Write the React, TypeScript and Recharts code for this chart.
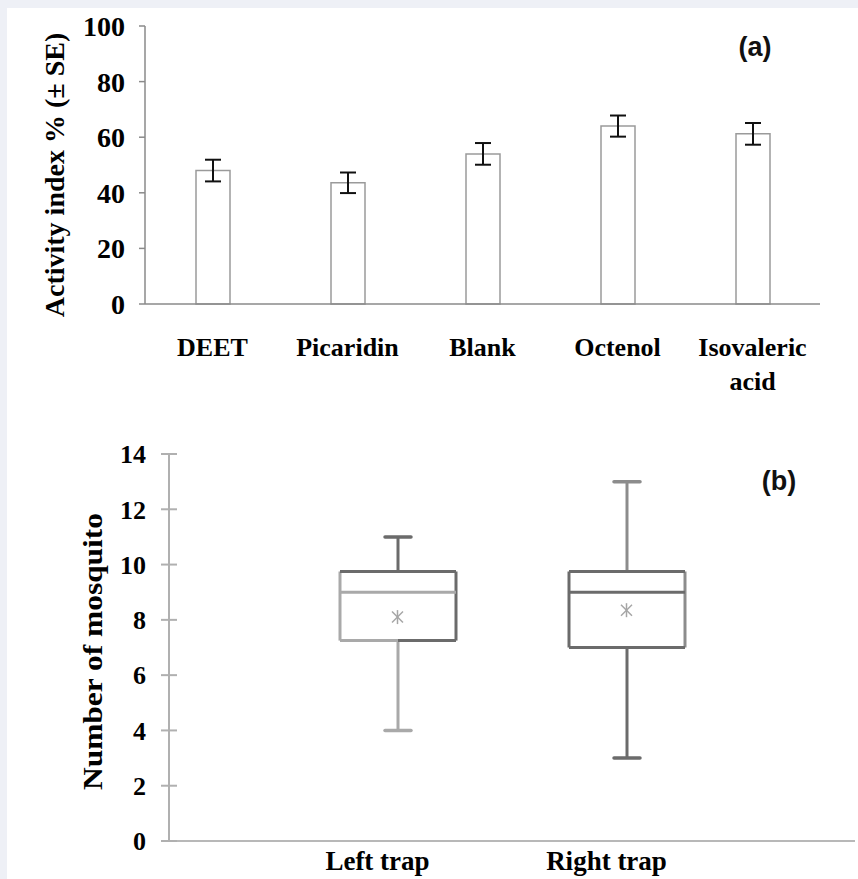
import React from 'react'
import {
  BarChart,
  Bar,
  ErrorBar,
  ComposedChart,
  Scatter,
  XAxis,
  YAxis,
} from 'recharts'

// (a) activity index per treatment
const treatments = ['DEET', 'Picaridin', 'Blank', 'Octenol', 'Isovaleric acid']
const activityIndex = [48, 43.6, 54, 64, 61.2]
const activitySE = [3.9, 3.7, 3.9, 3.8, 3.9]
const activityTicks = [0, 20, 40, 60, 80, 100]

// (b) mosquitoes per trap, box and whisker
const traps = ['Left trap', 'Right trap']
const whiskerLow = [4, 3]
const quart1 = [7.25, 7]
const medians = [9, 9]
const quart3 = [9.75, 9.75]
const whiskerHigh = [11, 13]
const means = [8.1, 8.35]
const mosquitoTicks = [0, 2, 4, 6, 8, 10, 12, 14]

const DARK = '#6b6b6b'
const LIGHT = '#a9a9a9'
const MID = '#8c8c8c'
const boxStyles = [
  { upper: DARK, top: DARK, left: LIGHT, right: DARK, median: LIGHT, bottomL: LIGHT, bottomR: DARK, lower: LIGHT },
  { upper: MID, top: DARK, left: DARK, right: MID, median: DARK, bottomL: DARK, bottomR: DARK, lower: DARK },
]

const activityData = treatments.map((name, i) => ({
  name,
  value: activityIndex[i],
  se: activitySE[i],
}))

const trapData = traps.map((name, i) => ({
  name,
  box: [quart1[i], quart3[i]],
  lo: whiskerLow[i],
  q1: quart1[i],
  med: medians[i],
  q3: quart3[i],
  hi: whiskerHigh[i],
  mean: means[i],
}))

const SERIF = '"Liberation Serif", "Times New Roman", serif'
const SANS = '"Liberation Sans", Arial, sans-serif'

const wrapLabel = (s: string) => (s.length > 12 ? s.split(' ') : [s])

const axisTitle = (text: string, dx: number, dy: number, size: number, len?: number) =>
  (props: any) => {
    const vb = props.viewBox || { x: 0, y: 0, width: 0, height: 0 }
    const x = vb.x + dx
    const y = vb.y + vb.height / 2 + dy
    return (
      <text
        x={x}
        y={y}
        transform={`rotate(-90 ${x} ${y})`}
        textAnchor="middle"
        fontFamily={SERIF}
        fontWeight="bold"
        fontSize={size}
        fill="#000"
        textLength={len}
        lengthAdjust={len ? 'spacingAndGlyphs' : undefined}
      >
        {text}
      </text>
    )
  }

const TreatmentTick = (props: any) => {
  const { x, y, payload } = props
  const lines = wrapLabel(String(payload.value))
  return (
    <text x={x} y={y + 52} textAnchor="middle" fontFamily={SERIF} fontWeight="bold" fontSize={26} fill="#000">
      {lines.map((l, i) => (
        <tspan key={i} x={x} dy={i === 0 ? 0 : 34}>
          {l}
        </tspan>
      ))}
    </text>
  )
}

const CrossTick = (props: any) => {
  const { x, y, payload } = props
  return (
    <g>
      <line x1={x} x2={x + 16} y1={y} y2={y} stroke="#b0b0b0" strokeWidth={2} />
      <text x={x - 15} y={y} dy="0.355em" textAnchor="end" fontFamily={SERIF} fontWeight="bold" fontSize={26} fill="#000">
        {payload.value}
      </text>
    </g>
  )
}

const TrapTick = (props: any) => {
  const { x, y, payload } = props
  return (
    <text x={x - 20} y={y + 29} textAnchor="middle" fontFamily={SERIF} fontWeight="bold" fontSize={27} fill="#000">
      {payload.value}
    </text>
  )
}

const BoxShape = (props: any) => {
  const { x, y, width, height, payload, index } = props
  const top = Math.min(y, y + height)
  const h = Math.abs(height)
  const unit = h / (payload.q3 - payload.q1)
  const py = (v: number) => top + (payload.q3 - v) * unit
  const cx = x + width / 2
  const bot = top + h
  const s = boxStyles[index] || boxStyles[0]
  const sw = 3
  return (
    <g>
      <line x1={cx} x2={cx} y1={py(payload.hi)} y2={top} stroke={s.upper} strokeWidth={sw} />
      <line x1={cx - 13} x2={cx + 13} y1={py(payload.hi)} y2={py(payload.hi)} stroke={s.upper} strokeWidth={3.5} strokeLinecap="round" />
      <line x1={cx} x2={cx} y1={bot} y2={py(payload.lo)} stroke={s.lower} strokeWidth={sw} />
      <line x1={cx - 13} x2={cx + 13} y1={py(payload.lo)} y2={py(payload.lo)} stroke={s.lower} strokeWidth={3.5} strokeLinecap="round" />
      <rect x={x} y={top} width={width} height={h} fill="#fff" />
      <line x1={x} x2={x} y1={top} y2={bot} stroke={s.left} strokeWidth={sw} />
      <line x1={x + width} x2={x + width} y1={top} y2={bot} stroke={s.right} strokeWidth={sw} />
      <line x1={x} x2={x + width} y1={top} y2={top} stroke={s.top} strokeWidth={sw} />
      <line x1={x} x2={cx} y1={bot} y2={bot} stroke={s.bottomL} strokeWidth={sw} />
      <line x1={cx} x2={x + width} y1={bot} y2={bot} stroke={s.bottomR} strokeWidth={sw} />
      <line x1={x} x2={x + width} y1={py(payload.med)} y2={py(payload.med)} stroke={s.median} strokeWidth={sw} />
    </g>
  )
}

const StarShape = (props: any) => {
  const { cx, cy } = props
  const r = 7
  const d = 5.5
  return (
    <g stroke="#a6a6a6" strokeWidth={1.5}>
      <line x1={cx} x2={cx} y1={cy - r} y2={cy + r} />
      <line x1={cx - d} x2={cx + d} y1={cy - d} y2={cy + d} />
      <line x1={cx - d} x2={cx + d} y1={cy + d} y2={cy - d} />
    </g>
  )
}

export default function App() {
  return (
    <div style={{ position: 'absolute', left: 0, top: 0, width: 858, height: 879, background: '#eef0f6' }}>
      <div style={{ position: 'absolute', left: 7, top: 8, width: 851, height: 871, background: '#fff' }} />

      <div style={{ position: 'absolute', left: 0, top: 0 }}>
        <BarChart width={858} height={430} data={activityData} margin={{ top: 26, right: 38, left: 45, bottom: 26 }}>
          <XAxis
            dataKey="name"
            interval={0}
            height={100}
            tickLine={false}
            tickSize={0}
            tickMargin={0}
            axisLine={{ stroke: '#8a8a8a', strokeWidth: 1.5 }}
            tick={<TreatmentTick />}
          />
          <YAxis
            width={100}
            domain={[0, 100]}
            ticks={activityTicks}
            interval={0}
            tickSize={6}
            tickMargin={14}
            axisLine={{ stroke: '#8a8a8a', strokeWidth: 1.5 }}
            tickLine={{ stroke: '#8a8a8a', strokeWidth: 1.5 }}
            tick={{ fill: '#000', fontFamily: SERIF, fontWeight: 'bold', fontSize: 28 }}
            label={{ content: axisTitle('Activity index % (± SE)', 19, 10, 28) }}
          />
          <Bar dataKey="value" fill="#fff" stroke="#9a9a9a" strokeWidth={1.5} barSize={34} isAnimationActive={false}>
            <ErrorBar dataKey="se" width={8} stroke="#111" strokeWidth={2} direction="y" />
          </Bar>
        </BarChart>
      </div>

      <div style={{ position: 'absolute', left: 0, top: 430 }}>
        <ComposedChart width={858} height={449} data={trapData} margin={{ top: 24, right: 3, left: 69, bottom: 0 }}>
          <XAxis
            dataKey="name"
            interval={0}
            height={38}
            padding={{ left: 114, right: 114 }}
            tickLine={false}
            tickSize={0}
            tickMargin={0}
            axisLine={{ stroke: '#b8b8b8', strokeWidth: 2 }}
            tick={<TrapTick />}
          />
          <YAxis
            width={100}
            domain={[0, 14]}
            ticks={mosquitoTicks}
            interval={0}
            tickSize={8}
            tickMargin={0}
            tickLine={false}
            axisLine={{ stroke: '#b0b0b0', strokeWidth: 2 }}
            tick={<CrossTick />}
            label={{ content: axisTitle('Number of mosquito', 33, 4, 28, 277) }}
          />
          <Bar dataKey="box" barSize={116} shape={<BoxShape />} isAnimationActive={false} />
          <Scatter dataKey="mean" shape={<StarShape />} isAnimationActive={false} />
        </ComposedChart>
      </div>

      <svg width={858} height={879} style={{ position: 'absolute', left: 0, top: 0, pointerEvents: 'none' }}>
        <text x={755} y={56} textAnchor="middle" fontFamily={SANS} fontWeight="bold" fontSize={27} fill="#111">
          (a)
        </text>
        <text x={779} y={490} textAnchor="middle" fontFamily={SANS} fontWeight="bold" fontSize={27} fill="#111">
          (b)
        </text>
      </svg>
    </div>
  )
}
